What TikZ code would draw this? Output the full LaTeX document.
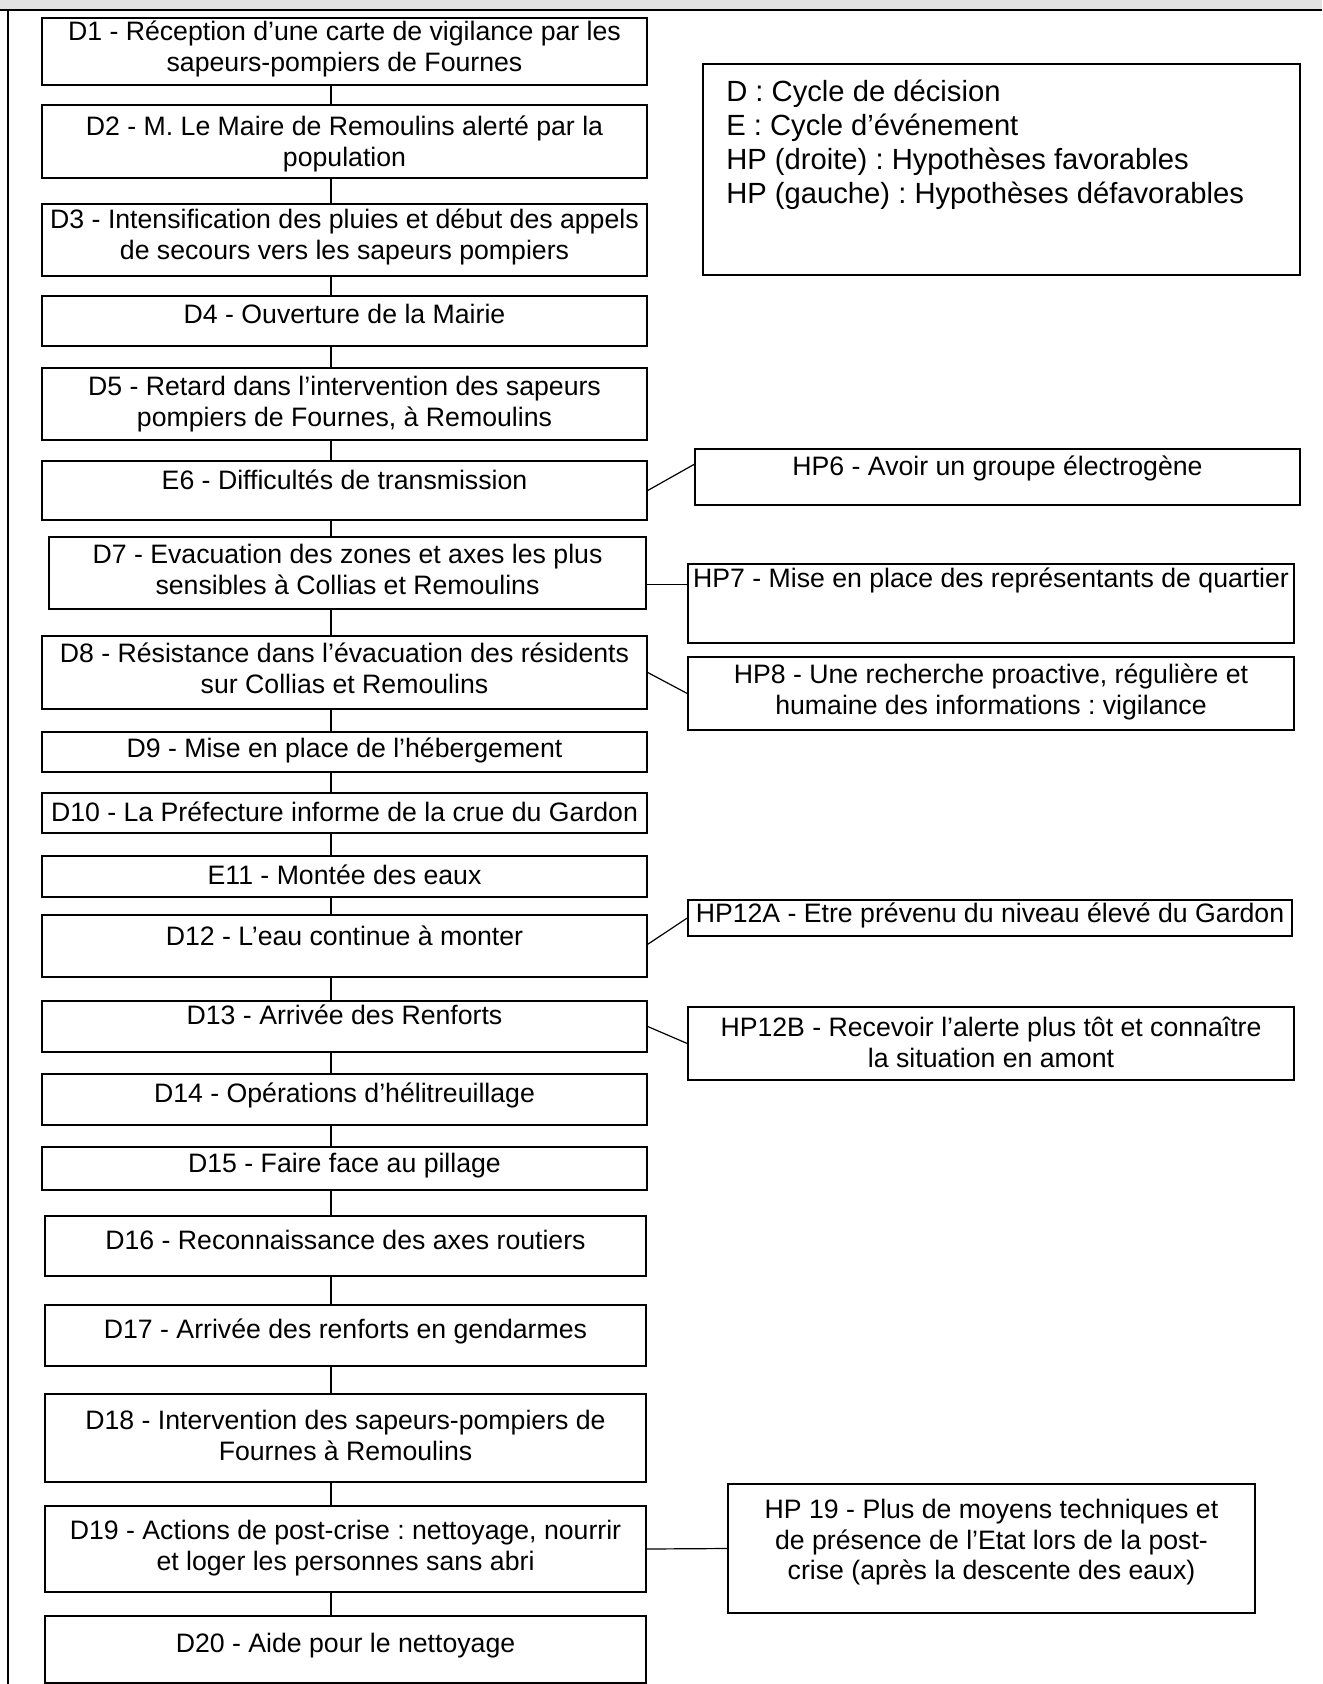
\documentclass[tikz,border=0pt]{standalone}
\usepackage{fontspec}
\setmainfont{Liberation Sans}
\usetikzlibrary{fit,calc}
\definecolor{band}{HTML}{E3E3E3}
\frenchspacing
\tikzset{
  boxst/.style={draw=black, line width=1.1pt, fill=white, inner sep=0pt, rectangle},
  txt/.style={font=\fontsize{20}{22.9}\selectfont\frenchspacing, align=center, inner sep=0pt, anchor=north},
  legtxt/.style={font=\fontsize{21.9}{25.5}\selectfont\frenchspacing, align=left, inner sep=0pt, anchor=north west},
  link/.style={draw=black, line width=0.9pt},
}
% name, x1, y1, x2, y2, text top, text
\newcommand\bx[7]{%
  \node[boxst, fit={(#2,#3) (#4,#5)}] (#1) {};
  \node[txt] (#1t) at ({(#2+#4)/2},#6) {\strut #7};
}
\begin{document}
\begin{tikzpicture}[x=0.75pt,y=-0.75pt]
\useasboundingbox (0,0) rectangle (1322,1684);
\fill[band] (0,0) rectangle (1322,10);
\draw[line width=2pt] (0,10) -- (1322,10);
\draw[line width=1.5pt] (8,10) -- (8,1684);
\coordinate (vx) at (331,0);

\bx{D1}{42}{18}{647}{85}{19}{D1 - Réception d’une carte de vigilance par les\\sapeurs-pompiers de Fournes}
\bx{D2}{42}{105}{647}{178}{114}{D2 - M. Le Maire de Remoulins alerté par la\\population}
\bx{D3}{42}{204}{647}{276}{207}{D3 - Intensification des pluies et début des appels\\de secours vers les sapeurs pompiers}
\bx{D4}{42}{296}{647}{346}{302}{D4 - Ouverture de la Mairie}
\bx{D5}{42}{368}{647}{440}{374}{D5 - Retard dans l’intervention des sapeurs\\pompiers de Fournes, à Remoulins}
\bx{E6}{42}{461}{647}{520}{468}{E6 - Difficultés de transmission}
\bx{D7}{49}{537}{646}{609}{542}{D7 - Evacuation des zones et axes les plus\\sensibles à Collias et Remoulins}
\bx{D8}{42}{636}{647}{709}{641}{D8 - Résistance dans l’évacuation des résidents\\sur Collias et Remoulins}
\bx{D9}{42}{732}{647}{772}{736}{D9 - Mise en place de l’hébergement}
\bx{D10}{42}{793}{647}{833}{800}{D10 - La Préfecture informe de la crue du Gardon}
\bx{E11}{42}{856}{647}{897}{863}{E11 - Montée des eaux}
\bx{D12}{42}{915}{647}{977}{924}{D12 - L’eau continue à monter}
\bx{D13}{42}{1001}{647}{1052}{1003}{D13 - Arrivée des Renforts}
\bx{D14}{42}{1074}{647}{1125}{1081}{D14 - Opérations d’hélitreuillage}
\bx{D15}{42}{1147}{647}{1190}{1151}{D15 - Faire face au pillage}
\bx{D16}{45}{1216}{646}{1276}{1228}{D16 - Reconnaissance des axes routiers}
\bx{D17}{45}{1305}{646}{1366}{1317}{D17 - Arrivée des renforts en gendarmes}
\bx{D18}{45}{1394}{646}{1482}{1408}{D18 - Intervention des sapeurs-pompiers de\\Fournes à Remoulins}
\bx{D19}{45}{1506}{646}{1592}{1518}{D19 - Actions de post-crise : nettoyage, nourrir\\et loger les personnes sans abri}
\bx{D20}{45}{1616}{646}{1683}{1631}{D20 - Aide pour le nettoyage}

\bx{HP6}{695}{449}{1300}{505}{454}{HP6 - Avoir un groupe électrogène}
\bx{HP7}{688}{564}{1294}{643}{566}{HP7 - Mise en place des représentants de quartier}
\bx{HP8}{688}{657}{1294}{730}{662}{HP8 - Une recherche proactive, régulière et\\humaine des informations : vigilance}
\bx{HP12A}{688}{900}{1292}{936}{901}{HP12A - Etre prévenu du niveau élevé du Gardon}
\bx{HP12B}{688}{1007}{1294}{1080}{1015}{HP12B - Recevoir l’alerte plus tôt et connaître\\la situation en amont}
\bx{HP19}{728}{1484}{1255}{1613}{1497}{HP 19 - Plus de moyens techniques et\\de présence de l’Etat lors de la post-\\crise (après la descente des eaux)}

\node[boxst, fit={(703,64) (1300,275)}] (LG) {};
\node[legtxt] (LGt) at (726,77.7) {\strut D : Cycle de décision\\E : Cycle d’événement\\HP (droite) : Hypothèses favorables\\HP (gauche) : Hypothèses défavorables};

\foreach \a/\b in {D1/D2,D2/D3,D3/D4,D4/D5,D5/E6,E6/D7,D7/D8,D8/D9,D9/D10,D10/E11,E11/D12,D12/D13,D13/D14,D14/D15,D15/D16,D16/D17,D17/D18,D18/D19,D19/D20}
  \draw[link] (\a.south -| vx) -- (\b.north -| vx);

\draw[link] (E6.east) -- ($(HP6.north west)+(0,16)$);
\draw[link] ($(D7.north east)+(0,48)$) coordinate (c7) -- (c7 -| HP7.west);
\draw[link] (D8.east) -- (HP8.west);
\draw[link] ($(D12.north east)+(0,30)$) -- (HP12A.west);
\draw[link] (D13.east) -- (HP12B.west);
\draw[link] (D19.east) -- (HP19.west);
\end{tikzpicture}
\end{document}
